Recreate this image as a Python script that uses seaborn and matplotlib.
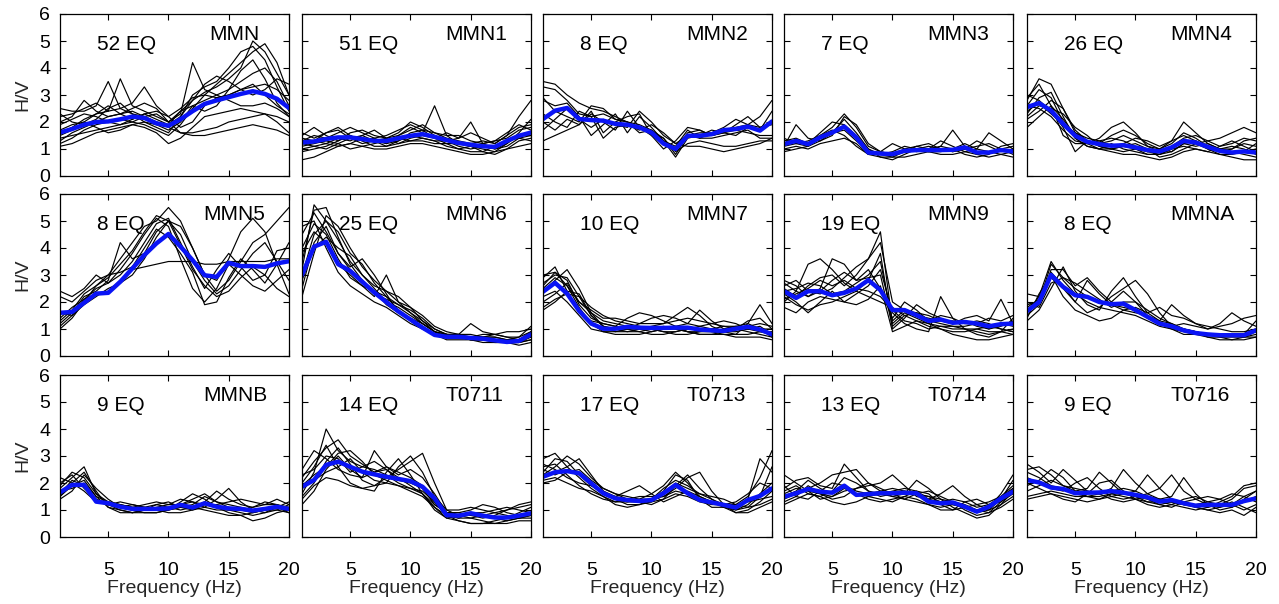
import numpy as np
import pandas as pd
import matplotlib
matplotlib.use("Agg")
import matplotlib.pyplot as plt
import seaborn as sns

sns.set_theme(style="white")
plt.rcParams["font.family"] = ["Liberation Sans", "DejaVu Sans"]

# Frequency samples (Hz)
freq = list(range(1, 21))

# ---------------- MMN ----------------
mmn_mean = [1.61, 1.74, 1.9, 2.0, 2.02, 2.1, 2.2, 2.15, 1.95, 1.86, 2.1, 2.4, 2.67, 2.8, 2.92, 3.04, 3.14, 3.04, 2.86, 2.52]
mmn_eq = [
    [1.2, 1.4, 1.7, 1.9, 2.0, 2.1, 2.0, 1.9, 1.7, 1.5, 1.9, 2.5, 3.0, 3.4, 3.8, 4.2, 4.6, 4.9, 4.2, 3.0],
    [2.5, 2.4, 2.4, 2.6, 3.5, 2.5, 2.3, 2.2, 2.0, 1.9, 2.2, 2.8, 3.1, 3.3, 3.6, 4.0, 5.0, 4.6, 3.8, 3.0],
    [2.2, 2.3, 2.5, 2.7, 2.4, 3.6, 2.6, 2.4, 2.2, 2.0, 2.3, 4.2, 3.2, 3.0, 3.2, 3.5, 3.8, 4.0, 3.5, 2.6],
    [1.6, 1.8, 2.1, 2.3, 2.4, 2.5, 2.7, 3.3, 2.6, 2.2, 2.5, 2.9, 3.0, 2.9, 3.0, 3.2, 3.3, 3.4, 3.2, 2.8],
    [1.1, 1.2, 1.4, 1.6, 1.7, 1.8, 1.9, 1.8, 1.6, 1.2, 1.4, 1.8, 2.2, 2.3, 2.4, 2.5, 2.4, 2.3, 2.0, 1.6],
    [1.9, 2.1, 2.3, 2.2, 2.0, 1.9, 2.1, 2.3, 2.4, 2.2, 1.8, 2.0, 2.6, 2.9, 3.0, 3.2, 3.4, 3.0, 2.6, 2.3],
    [1.4, 1.5, 1.6, 1.7, 1.8, 1.9, 2.0, 2.2, 2.3, 2.0, 1.6, 1.6, 1.7, 1.8, 2.0, 2.1, 2.2, 2.3, 2.2, 2.0],
    [2.0, 2.2, 2.8, 2.4, 2.2, 2.3, 2.5, 2.7, 2.5, 2.0, 2.4, 2.8, 3.4, 3.7, 3.5, 3.2, 3.0, 3.2, 3.6, 3.4],
    [1.7, 1.9, 2.0, 1.8, 1.6, 1.7, 1.9, 2.0, 1.9, 1.7, 2.0, 2.6, 2.4, 2.6, 3.2, 3.9, 4.3, 3.6, 2.7, 2.2],
    [1.3, 1.6, 1.8, 2.0, 2.2, 2.3, 2.4, 2.2, 2.0, 1.8, 1.6, 1.5, 1.5, 1.6, 1.7, 1.8, 1.9, 1.8, 1.7, 1.5],
    [2.3, 2.0, 1.9, 2.1, 2.5, 2.7, 2.3, 2.0, 1.8, 1.6, 2.2, 3.0, 3.3, 3.5, 4.0, 4.6, 4.8, 4.3, 3.3, 2.4],
    [1.5, 1.7, 2.0, 2.3, 2.6, 2.3, 2.1, 2.3, 2.1, 1.9, 2.4, 2.6, 2.8, 3.0, 2.8, 2.6, 2.6, 2.7, 2.5, 2.2],
]

# ---------------- MMN1 ----------------
mmn1_mean = [1.24, 1.28, 1.37, 1.43, 1.43, 1.37, 1.3, 1.3, 1.4, 1.49, 1.55, 1.45, 1.33, 1.22, 1.16, 1.1, 1.08, 1.3, 1.49, 1.61]
mmn1_eq = [
    [0.6, 0.7, 0.9, 1.1, 1.2, 1.1, 1.0, 1.0, 1.1, 1.2, 1.2, 1.1, 1.0, 0.9, 0.8, 0.8, 0.9, 1.0, 1.1, 1.2],
    [1.5, 1.8, 1.5, 1.3, 1.6, 1.7, 1.5, 1.4, 1.6, 2.0, 1.8, 1.5, 1.3, 1.4, 1.6, 1.4, 1.2, 1.5, 2.2, 2.8],
    [1.2, 1.3, 1.6, 1.8, 1.5, 1.3, 1.4, 1.2, 1.5, 1.8, 1.6, 2.6, 1.5, 1.2, 1.1, 1.2, 1.3, 1.6, 1.9, 1.7],
    [1.0, 1.1, 1.2, 1.4, 1.3, 1.5, 1.7, 1.4, 1.2, 1.4, 1.5, 1.4, 1.6, 1.4, 2.0, 1.2, 1.0, 1.1, 1.4, 1.5],
    [1.4, 1.3, 1.2, 1.1, 1.2, 1.4, 1.3, 1.2, 1.3, 1.6, 1.7, 1.4, 1.2, 1.0, 0.9, 0.9, 0.8, 1.0, 1.3, 1.4],
    [0.9, 1.0, 1.1, 1.3, 1.5, 1.3, 1.1, 1.1, 1.3, 1.5, 1.4, 1.3, 1.3, 1.1, 1.0, 1.1, 1.0, 1.2, 1.6, 2.1],
    [1.3, 1.5, 1.4, 1.6, 1.8, 1.6, 1.4, 1.5, 1.7, 1.9, 1.7, 1.6, 1.5, 1.5, 1.3, 1.2, 1.3, 1.4, 1.7, 1.8],
    [1.1, 1.2, 1.3, 1.2, 1.0, 1.1, 1.2, 1.3, 1.4, 1.3, 1.4, 1.3, 1.1, 1.0, 1.1, 1.0, 0.9, 1.2, 1.5, 1.5],
    [1.6, 1.4, 1.6, 1.7, 1.4, 1.2, 1.3, 1.4, 1.5, 1.7, 1.9, 1.6, 1.4, 1.3, 1.2, 1.3, 1.2, 1.5, 1.8, 1.9],
    [1.2, 1.1, 1.0, 1.2, 1.4, 1.5, 1.3, 1.1, 1.2, 1.3, 1.3, 1.2, 1.2, 1.2, 1.1, 0.9, 1.1, 1.3, 1.4, 1.3],
]

# ---------------- MMN2 ----------------
mmn2_mean = [2.11, 2.42, 2.52, 2.11, 2.07, 2.05, 1.93, 1.9, 1.8, 1.61, 1.2, 1.0, 1.49, 1.49, 1.55, 1.7, 1.74, 1.83, 1.68, 2.02]
mmn2_eq = [
    [3.5, 3.4, 3.0, 2.7, 2.5, 2.4, 2.2, 2.0, 1.9, 1.7, 1.4, 0.8, 1.5, 1.6, 1.6, 1.7, 1.8, 1.9, 2.2, 2.8],
    [3.3, 3.2, 2.8, 2.3, 2.2, 2.3, 2.1, 2.0, 1.8, 1.5, 1.2, 1.0, 1.6, 1.7, 1.5, 1.6, 1.7, 1.6, 1.5, 1.5],
    [1.3, 1.5, 1.7, 1.9, 2.3, 2.0, 1.7, 2.4, 1.8, 1.6, 1.4, 0.9, 1.2, 1.3, 1.2, 1.1, 1.1, 1.2, 1.3, 1.3],
    [2.8, 2.6, 2.7, 2.2, 1.5, 1.9, 2.3, 1.6, 2.2, 1.8, 1.3, 1.1, 1.7, 1.4, 1.6, 1.8, 2.1, 1.9, 1.8, 2.0],
    [2.0, 1.7, 2.1, 1.9, 2.4, 1.6, 2.0, 2.2, 2.3, 1.5, 1.0, 1.3, 1.8, 1.7, 1.5, 1.6, 1.9, 2.2, 1.8, 1.9],
    [1.7, 2.1, 2.5, 2.1, 1.8, 2.1, 1.9, 1.8, 2.4, 2.0, 1.5, 1.2, 1.5, 1.4, 1.4, 1.5, 1.6, 1.7, 1.4, 1.4],
    [2.3, 2.0, 1.8, 2.4, 2.2, 1.4, 1.8, 1.9, 1.7, 1.9, 1.6, 1.2, 1.1, 1.1, 1.0, 0.9, 1.0, 1.1, 1.2, 1.4],
    [2.9, 2.4, 2.2, 2.0, 2.6, 2.5, 2.1, 2.0, 1.6, 1.7, 1.3, 0.7, 1.4, 1.5, 1.7, 1.6, 1.5, 1.8, 1.7, 2.4],
]

# ---------------- MMN3 ----------------
mmn3_mean = [1.18, 1.3, 1.18, 1.43, 1.61, 1.83, 1.43, 0.87, 0.83, 0.81, 0.93, 0.96, 0.96, 0.96, 0.97, 1.06, 0.87, 0.87, 0.96, 0.91]
mmn3_eq = [
    [1.1, 1.9, 1.4, 1.3, 1.6, 2.1, 1.6, 1.0, 0.7, 0.6, 0.8, 1.0, 1.1, 1.0, 0.9, 1.0, 1.1, 1.2, 1.0, 0.8],
    [1.3, 1.4, 1.2, 1.5, 1.8, 2.3, 1.8, 1.1, 0.9, 0.8, 0.9, 1.0, 0.9, 1.1, 1.7, 1.1, 0.8, 0.9, 1.0, 1.1],
    [0.9, 1.0, 1.1, 1.4, 1.6, 1.7, 1.3, 0.9, 0.8, 0.9, 1.1, 1.0, 0.9, 0.8, 0.8, 0.9, 1.0, 1.6, 1.3, 1.0],
    [1.2, 1.3, 1.2, 1.6, 2.0, 1.9, 1.5, 1.0, 0.8, 0.7, 0.7, 0.8, 0.9, 0.9, 1.0, 1.2, 1.0, 0.9, 0.8, 0.7],
    [1.0, 1.1, 1.0, 1.2, 1.3, 1.4, 1.2, 0.8, 0.9, 1.2, 1.0, 0.9, 1.0, 1.1, 1.0, 0.8, 0.7, 0.8, 1.1, 1.2],
    [1.4, 1.2, 1.3, 1.5, 1.7, 1.5, 1.1, 0.8, 0.7, 0.7, 0.9, 1.1, 1.2, 1.0, 0.9, 1.0, 1.3, 1.1, 0.9, 1.0],
    [1.1, 1.2, 1.1, 1.3, 1.5, 2.2, 1.9, 1.2, 0.9, 0.8, 1.0, 1.1, 1.0, 1.3, 1.1, 0.9, 0.8, 0.7, 0.8, 0.9],
]

# ---------------- MMN4 ----------------
mmn4_mean = [2.55, 2.7, 2.42, 1.93, 1.49, 1.27, 1.18, 1.12, 1.14, 1.06, 0.96, 0.91, 1.06, 1.3, 1.24, 1.08, 0.93, 0.87, 0.91, 0.87]
mmn4_eq = [
    [2.8, 3.6, 3.4, 2.5, 1.6, 1.3, 1.2, 1.3, 1.5, 1.3, 1.1, 1.0, 1.2, 1.6, 1.4, 1.1, 1.0, 0.9, 0.8, 0.7],
    [2.3, 2.9, 3.1, 2.2, 1.4, 1.1, 1.0, 1.2, 1.0, 0.9, 0.8, 0.8, 1.0, 1.3, 1.2, 1.0, 0.9, 1.0, 1.2, 1.1],
    [2.6, 2.5, 2.2, 1.7, 1.3, 1.2, 1.4, 1.8, 2.0, 1.6, 1.1, 0.9, 1.1, 1.4, 1.5, 1.3, 1.1, 1.2, 1.4, 1.3],
    [3.0, 2.8, 2.4, 1.8, 0.9, 1.3, 1.1, 1.0, 1.1, 1.2, 1.0, 0.7, 0.8, 1.0, 1.2, 1.3, 1.4, 1.6, 1.8, 1.6],
    [1.8, 2.2, 2.6, 2.1, 1.5, 1.2, 1.0, 0.9, 0.8, 0.8, 0.7, 0.6, 0.7, 0.9, 1.0, 0.9, 0.8, 0.7, 0.6, 0.6],
    [2.4, 2.7, 2.3, 1.9, 1.6, 1.4, 1.3, 1.1, 1.2, 1.4, 1.3, 1.1, 1.3, 2.0, 1.6, 1.2, 1.0, 0.9, 0.9, 1.0],
    [2.1, 2.4, 2.8, 2.5, 1.7, 1.3, 1.2, 1.5, 1.7, 1.5, 1.2, 1.0, 0.9, 1.2, 1.3, 1.1, 1.0, 1.1, 1.0, 0.8],
    [2.6, 3.2, 2.9, 2.0, 1.4, 1.1, 1.0, 1.0, 0.9, 1.0, 0.9, 0.8, 1.0, 1.1, 1.0, 0.9, 1.1, 1.3, 1.1, 0.9],
    [2.9, 3.4, 2.6, 1.5, 1.2, 1.2, 1.3, 1.4, 1.3, 1.1, 0.9, 1.0, 1.3, 1.5, 1.3, 1.0, 0.8, 0.8, 0.9, 1.2],
    [2.2, 2.6, 2.5, 2.3, 1.8, 1.5, 1.1, 1.0, 1.1, 1.0, 0.8, 0.8, 0.9, 1.2, 1.1, 1.2, 1.0, 1.0, 1.3, 1.4],
]

# ---------------- MMN5 ----------------
mmn5_mean = [1.6, 1.63, 1.97, 2.31, 2.34, 2.75, 3.24, 3.74, 4.17, 4.52, 4.05, 3.55, 2.99, 2.93, 3.45, 3.33, 3.33, 3.3, 3.43, 3.51]
mmn5_eq = [
    [1.0, 1.4, 2.0, 2.6, 3.0, 3.6, 4.2, 4.8, 5.0, 5.5, 5.0, 4.0, 3.0, 2.4, 2.8, 3.5, 4.2, 4.5, 5.0, 5.5],
    [2.4, 2.2, 2.5, 3.0, 2.7, 3.2, 3.8, 4.5, 5.1, 4.8, 3.6, 2.5, 2.0, 2.5, 3.4, 3.0, 2.6, 2.4, 2.8, 3.2],
    [1.2, 1.6, 2.2, 2.4, 2.8, 4.2, 3.6, 3.8, 4.6, 5.0, 4.5, 3.5, 2.8, 2.3, 2.6, 3.2, 3.8, 4.2, 3.5, 2.8],
    [1.4, 1.8, 2.1, 2.3, 2.4, 2.8, 3.2, 3.3, 3.4, 3.5, 3.5, 3.5, 3.4, 3.4, 3.5, 3.5, 3.5, 3.5, 3.6, 3.6],
    [1.6, 1.5, 1.9, 2.2, 2.5, 2.7, 3.0, 3.6, 4.4, 5.0, 4.8, 4.0, 3.0, 2.8, 3.6, 4.6, 5.1, 4.6, 3.4, 2.3],
    [1.3, 1.7, 2.3, 2.6, 2.9, 3.4, 3.9, 4.6, 5.2, 5.0, 4.1, 3.2, 2.6, 2.2, 2.4, 2.9, 3.3, 3.0, 2.5, 2.2],
    [2.2, 2.0, 2.4, 2.8, 3.0, 3.1, 3.3, 4.0, 4.7, 4.4, 3.8, 3.1, 1.9, 2.0, 2.9, 3.6, 3.2, 2.7, 3.4, 4.2],
    [1.1, 1.5, 2.1, 2.5, 2.7, 3.0, 3.5, 4.2, 4.9, 5.1, 4.2, 3.3, 2.5, 3.2, 3.8, 3.3, 2.8, 3.0, 3.9, 4.0],
]

# ---------------- MMN6 ----------------
mmn6_mean = [3.0, 4.05, 4.23, 3.4, 3.15, 2.75, 2.35, 2.0, 1.65, 1.35, 1.05, 0.78, 0.71, 0.71, 0.67, 0.64, 0.58, 0.52, 0.56, 0.8]
mmn6_eq = [
    [3.2, 5.6, 5.0, 4.3, 3.5, 3.0, 2.5, 2.0, 1.8, 1.5, 1.2, 0.9, 0.7, 0.7, 0.6, 0.6, 0.6, 0.5, 0.5, 0.7],
    [4.5, 5.3, 4.6, 3.8, 3.2, 2.8, 2.4, 2.2, 1.7, 1.3, 1.0, 0.8, 0.8, 0.8, 0.7, 0.7, 0.7, 0.6, 0.6, 0.9],
    [2.2, 3.8, 5.2, 4.8, 4.0, 3.3, 2.8, 2.4, 2.0, 1.6, 1.2, 0.9, 0.8, 0.7, 0.6, 0.5, 0.5, 0.5, 0.5, 0.6],
    [3.8, 4.6, 4.2, 3.4, 3.0, 2.6, 2.2, 3.0, 2.0, 1.8, 1.5, 1.1, 0.9, 0.8, 1.2, 0.9, 0.8, 0.7, 0.6, 0.8],
    [2.5, 4.2, 4.8, 3.8, 3.3, 3.6, 3.0, 2.3, 1.6, 1.4, 1.1, 0.8, 0.7, 0.7, 0.7, 0.8, 0.8, 0.7, 0.7, 1.1],
    [4.8, 5.0, 4.0, 3.1, 2.6, 2.3, 2.0, 1.8, 1.5, 1.2, 1.0, 0.8, 0.6, 0.6, 0.6, 0.6, 0.5, 0.5, 0.5, 0.6],
    [3.5, 5.4, 5.5, 4.4, 3.4, 2.8, 2.3, 2.1, 1.9, 1.7, 1.4, 1.0, 0.8, 0.8, 0.8, 0.7, 0.8, 0.9, 0.9, 1.0],
    [2.8, 4.0, 4.4, 4.0, 3.7, 3.0, 2.6, 2.4, 2.2, 1.8, 1.3, 0.9, 0.7, 0.7, 0.7, 0.6, 0.6, 0.6, 0.7, 0.9],
    [4.0, 4.9, 4.5, 3.6, 2.9, 2.6, 2.4, 1.9, 1.6, 1.4, 1.2, 0.9, 0.8, 0.7, 0.6, 0.6, 0.6, 0.5, 0.4, 0.5],
    [3.0, 4.5, 5.0, 4.6, 3.8, 3.4, 2.7, 2.2, 1.9, 1.6, 1.3, 1.0, 0.8, 0.7, 0.7, 0.7, 0.7, 0.6, 0.6, 0.8],
]

# ---------------- MMN7 ----------------
mmn7_mean = [2.38, 2.71, 2.31, 1.67, 1.2, 1.01, 1.01, 1.08, 1.05, 1.04, 1.04, 1.05, 1.05, 0.98, 0.95, 0.93, 1.01, 1.08, 0.98, 0.8]
mmn7_eq = [
    [2.9, 3.3, 2.4, 1.6, 1.3, 1.2, 1.1, 1.0, 1.0, 1.1, 1.2, 1.5, 1.8, 1.5, 1.1, 0.9, 0.9, 1.0, 1.1, 0.8],
    [2.4, 2.8, 3.2, 2.5, 1.6, 1.1, 0.9, 0.9, 1.0, 1.0, 0.9, 0.9, 1.0, 1.0, 0.9, 0.8, 0.8, 1.2, 1.9, 1.2],
    [1.8, 2.1, 2.3, 2.2, 1.8, 1.5, 1.3, 1.2, 1.1, 1.0, 0.9, 0.8, 0.8, 0.9, 1.0, 1.1, 1.0, 0.9, 0.8, 0.7],
    [2.6, 3.1, 2.8, 1.9, 1.4, 1.2, 1.1, 1.4, 1.6, 1.5, 1.3, 1.1, 0.9, 0.8, 0.8, 0.8, 0.7, 0.7, 0.7, 0.6],
    [2.2, 2.4, 2.0, 1.5, 1.0, 0.9, 0.9, 1.0, 1.2, 1.4, 1.5, 1.4, 1.2, 1.1, 1.2, 1.3, 1.2, 1.0, 0.9, 0.9],
    [3.0, 3.1, 2.6, 2.0, 1.6, 1.3, 1.2, 1.1, 1.0, 0.9, 1.0, 1.1, 1.2, 1.7, 1.3, 1.0, 1.0, 1.1, 1.2, 1.1],
    [1.7, 2.0, 2.4, 2.3, 1.5, 1.1, 1.0, 1.0, 0.9, 0.8, 0.8, 0.9, 1.0, 1.1, 1.0, 0.9, 1.0, 1.3, 1.4, 1.0],
    [2.5, 2.9, 2.6, 1.8, 1.2, 0.9, 0.8, 0.8, 0.8, 0.9, 1.0, 1.0, 0.9, 0.8, 0.8, 0.9, 0.8, 0.8, 0.9, 0.8],
    [2.0, 2.3, 2.7, 2.0, 1.7, 1.4, 1.4, 1.3, 1.2, 1.2, 1.2, 1.3, 1.4, 1.3, 1.2, 1.1, 1.1, 1.0, 1.0, 1.0],
    [2.7, 3.0, 2.9, 2.2, 1.5, 1.1, 1.0, 0.9, 0.9, 1.0, 1.1, 1.0, 0.9, 0.9, 0.9, 1.0, 1.1, 1.2, 1.0, 0.7],
]

# ---------------- MMN9 ----------------
mmn9_mean = [2.4, 2.15, 2.4, 2.4, 2.25, 2.34, 2.5, 2.81, 2.44, 1.7, 1.7, 1.51, 1.3, 1.35, 1.23, 1.26, 1.2, 1.1, 1.18, 1.2]
mmn9_eq = [
    [2.5, 2.2, 2.6, 2.9, 3.0, 2.6, 3.0, 3.6, 4.6, 1.2, 1.6, 1.4, 1.2, 1.1, 1.0, 1.0, 0.9, 0.8, 0.9, 1.0],
    [2.0, 2.4, 3.4, 3.6, 3.2, 2.7, 2.4, 2.8, 3.8, 1.0, 1.4, 1.9, 1.6, 1.4, 1.2, 1.3, 1.1, 1.0, 1.2, 1.1],
    [2.8, 2.6, 2.2, 2.5, 3.6, 3.4, 2.8, 3.2, 2.5, 1.4, 2.0, 1.7, 1.3, 1.5, 1.4, 1.2, 1.3, 1.2, 1.0, 0.9],
    [1.8, 1.6, 2.0, 2.2, 2.1, 2.0, 2.3, 2.6, 3.2, 1.6, 1.2, 1.0, 0.9, 2.2, 1.4, 1.0, 0.8, 0.7, 0.9, 1.4],
    [2.2, 1.9, 1.7, 1.9, 2.0, 2.2, 2.4, 2.2, 2.0, 1.8, 1.5, 1.3, 1.2, 1.0, 0.8, 0.7, 0.6, 0.6, 0.7, 0.8],
    [2.6, 2.8, 2.4, 2.3, 2.5, 2.9, 3.3, 3.6, 4.2, 2.0, 1.7, 1.6, 1.5, 1.3, 1.2, 1.4, 1.5, 1.3, 2.1, 1.2],
    [2.3, 2.0, 1.6, 2.0, 2.4, 2.0, 1.9, 2.1, 2.6, 0.9, 1.1, 1.3, 1.1, 1.0, 0.9, 0.9, 1.0, 1.1, 1.0, 0.9],
    [2.4, 2.5, 2.7, 2.6, 2.3, 2.4, 2.7, 3.0, 3.5, 1.3, 1.7, 1.5, 1.4, 1.3, 1.3, 1.2, 1.2, 1.4, 1.3, 1.5],
    [2.1, 2.3, 2.5, 2.8, 2.6, 2.8, 2.5, 2.4, 2.2, 1.7, 1.3, 1.2, 1.0, 1.1, 1.1, 1.0, 1.0, 0.9, 0.9, 0.8],
    [2.7, 2.4, 2.2, 2.4, 2.8, 3.1, 2.8, 2.9, 3.0, 1.1, 1.5, 1.6, 1.3, 1.2, 1.1, 1.1, 1.2, 1.0, 1.1, 1.3],
]

# ---------------- MMNA ----------------
mmna_mean = [1.66, 2.0, 3.0, 2.56, 2.25, 2.19, 2.0, 1.92, 1.94, 1.7, 1.45, 1.2, 1.1, 0.95, 0.85, 0.8, 0.77, 0.77, 0.77, 0.95]
mmna_eq = [
    [2.3, 2.2, 3.5, 2.8, 2.3, 2.0, 1.8, 1.7, 1.6, 1.5, 1.3, 1.1, 1.0, 0.8, 0.8, 0.7, 0.7, 0.6, 0.7, 0.8],
    [1.5, 1.9, 3.2, 3.2, 2.6, 2.9, 2.4, 2.0, 2.4, 2.0, 1.5, 1.2, 1.0, 0.9, 0.8, 0.8, 0.8, 0.8, 0.7, 0.9],
    [1.3, 1.7, 2.5, 3.3, 2.4, 1.9, 1.7, 2.4, 2.9, 2.2, 1.6, 1.3, 1.2, 1.0, 0.9, 0.8, 0.7, 0.7, 0.7, 0.7],
    [1.8, 2.1, 3.1, 2.6, 2.0, 1.6, 1.8, 2.2, 2.5, 2.8, 2.3, 1.6, 1.1, 1.0, 0.9, 0.8, 0.8, 0.8, 0.8, 1.3],
    [1.4, 2.3, 3.0, 2.2, 1.7, 1.5, 1.3, 1.4, 1.7, 1.8, 1.6, 1.8, 1.5, 1.4, 1.2, 1.1, 1.0, 0.9, 0.9, 1.0],
    [2.0, 1.8, 2.7, 2.9, 2.5, 2.2, 2.0, 1.9, 1.7, 1.6, 1.5, 1.3, 1.9, 1.5, 1.2, 1.0, 1.1, 1.2, 1.4, 1.5],
    [1.6, 2.2, 2.9, 2.5, 2.0, 2.8, 2.3, 1.9, 1.8, 1.7, 1.4, 1.2, 1.1, 1.2, 1.1, 1.0, 1.2, 1.6, 1.3, 1.1],
    [1.9, 2.0, 3.4, 2.9, 2.7, 2.4, 2.1, 1.8, 2.0, 2.0, 1.7, 1.4, 1.2, 1.0, 0.9, 0.7, 0.6, 0.6, 0.6, 0.7],
]

# ---------------- MMNB ----------------
mmnb_mean = [1.65, 1.93, 1.93, 1.31, 1.25, 1.12, 1.04, 1.04, 1.04, 1.06, 1.19, 1.09, 1.25, 1.12, 1.06, 1.04, 0.98, 1.04, 1.12, 1.04]
mmnb_eq = [
    [1.8, 2.2, 2.6, 1.6, 1.3, 1.2, 1.1, 1.0, 1.0, 1.1, 1.2, 1.4, 1.6, 1.3, 1.1, 1.0, 0.9, 1.0, 1.1, 1.0],
    [1.5, 1.9, 2.1, 1.5, 1.1, 1.0, 0.9, 1.0, 1.2, 1.3, 1.1, 1.0, 1.1, 1.4, 1.8, 1.3, 1.0, 0.9, 1.0, 1.2],
    [2.2, 2.0, 1.7, 1.3, 1.2, 1.3, 1.2, 1.1, 1.0, 0.9, 0.9, 1.0, 1.2, 1.1, 1.0, 0.9, 0.8, 0.9, 1.1, 1.3],
    [1.4, 1.7, 2.3, 1.8, 1.4, 1.1, 1.0, 0.9, 0.9, 1.0, 1.3, 1.6, 1.4, 1.1, 0.9, 0.8, 0.6, 0.7, 0.9, 1.0],
    [1.6, 2.1, 1.9, 1.4, 1.2, 1.1, 1.0, 1.1, 1.2, 1.1, 1.0, 1.1, 1.3, 1.7, 1.4, 1.2, 1.1, 1.2, 1.4, 1.2],
    [1.9, 2.4, 2.2, 1.6, 1.2, 1.0, 0.9, 0.9, 0.9, 1.0, 1.1, 1.1, 1.0, 0.9, 0.8, 0.8, 0.9, 1.0, 1.0, 0.9],
    [1.7, 1.8, 2.0, 1.5, 1.3, 1.2, 1.1, 1.2, 1.3, 1.2, 1.2, 1.3, 1.2, 1.2, 1.3, 1.4, 1.3, 1.2, 1.2, 1.1],
    [1.5, 2.0, 2.4, 1.7, 1.1, 0.9, 0.9, 1.0, 1.1, 1.2, 1.4, 1.3, 1.1, 1.0, 1.0, 1.0, 1.1, 1.3, 1.2, 1.0],
    [2.0, 2.3, 1.8, 1.4, 1.2, 1.1, 1.2, 1.1, 1.0, 1.0, 1.1, 1.2, 1.5, 1.3, 1.2, 1.1, 1.0, 1.0, 1.1, 0.9],
]

# ---------------- T0711 ----------------
t0711_mean = [1.86, 2.11, 2.67, 2.79, 2.6, 2.42, 2.32, 2.23, 2.15, 2.07, 1.86, 1.43, 0.81, 0.79, 0.88, 0.79, 0.72, 0.72, 0.79, 0.88]
t0711_eq = [
    [1.6, 2.4, 4.0, 3.2, 2.8, 2.6, 2.5, 2.3, 2.0, 1.8, 1.6, 1.2, 0.9, 0.9, 0.8, 0.8, 0.7, 0.7, 0.8, 0.9],
    [2.2, 2.8, 3.3, 3.6, 3.0, 2.7, 2.4, 2.6, 2.4, 2.2, 1.9, 1.3, 0.8, 0.7, 0.9, 0.8, 0.7, 0.6, 0.7, 0.8],
    [1.2, 1.7, 2.5, 3.0, 2.5, 2.2, 2.4, 2.5, 2.2, 1.9, 1.6, 1.1, 0.7, 0.6, 0.5, 0.5, 0.6, 0.7, 0.9, 1.1],
    [2.5, 3.2, 2.9, 2.5, 2.3, 2.2, 3.2, 2.6, 2.3, 2.5, 2.2, 1.6, 0.9, 0.8, 0.8, 0.7, 0.8, 1.0, 1.2, 1.3],
    [1.8, 2.1, 2.4, 2.6, 2.9, 2.4, 2.1, 2.0, 2.6, 3.0, 2.4, 1.5, 1.0, 1.0, 1.1, 1.0, 0.9, 0.8, 0.7, 0.7],
    [1.5, 2.0, 2.8, 3.3, 2.7, 2.1, 1.9, 2.2, 2.5, 2.8, 3.1, 2.0, 1.0, 0.8, 0.7, 0.6, 0.5, 0.5, 0.6, 0.6],
    [2.0, 2.6, 3.4, 2.6, 2.0, 1.8, 1.9, 2.0, 1.9, 1.8, 1.7, 1.3, 0.8, 0.6, 0.5, 0.5, 0.5, 0.6, 0.7, 0.8],
    [1.4, 1.9, 2.2, 2.1, 1.9, 1.8, 1.7, 2.4, 2.9, 2.3, 1.6, 1.0, 0.7, 0.8, 0.9, 0.9, 1.0, 1.1, 1.0, 0.9],
    [2.3, 2.5, 3.0, 2.9, 2.4, 2.6, 2.8, 2.5, 2.1, 2.0, 1.8, 1.2, 0.9, 0.9, 1.0, 1.2, 1.1, 0.9, 0.8, 0.9],
    [1.9, 2.3, 2.6, 3.1, 3.2, 2.8, 2.3, 2.1, 1.9, 1.7, 1.5, 1.1, 0.8, 0.7, 0.7, 0.8, 0.9, 1.0, 1.1, 1.2],
]

# ---------------- T0713 ----------------
t0713_mean = [2.23, 2.4, 2.44, 2.36, 1.99, 1.62, 1.43, 1.37, 1.33, 1.37, 1.62, 1.93, 1.62, 1.37, 1.28, 1.19, 1.09, 1.37, 1.52, 1.8]
t0713_eq = [
    [2.9, 3.1, 2.6, 2.2, 1.8, 1.5, 1.3, 1.3, 1.4, 1.6, 1.9, 2.4, 2.0, 1.5, 1.3, 1.2, 1.1, 1.4, 2.9, 2.4],
    [2.2, 2.4, 2.6, 2.9, 2.3, 1.7, 1.4, 1.2, 1.2, 1.3, 1.6, 2.0, 1.8, 1.6, 1.4, 1.2, 1.0, 1.2, 1.6, 2.0],
    [2.6, 2.7, 2.3, 1.9, 1.6, 1.4, 1.3, 1.4, 1.5, 1.5, 1.5, 1.8, 2.2, 2.4, 1.7, 1.2, 0.9, 1.0, 1.3, 1.7],
    [2.0, 2.1, 2.4, 2.5, 2.1, 1.8, 1.6, 1.5, 1.4, 1.4, 1.7, 2.3, 2.1, 1.4, 1.1, 1.1, 1.2, 1.5, 2.2, 3.2],
    [2.4, 2.9, 2.8, 2.3, 1.9, 1.6, 1.5, 1.7, 1.9, 1.6, 1.3, 1.5, 1.7, 1.5, 1.3, 1.2, 1.2, 1.3, 1.4, 1.5],
    [2.1, 2.2, 2.0, 1.8, 1.7, 1.5, 1.2, 1.1, 1.2, 1.4, 1.8, 2.1, 1.9, 1.6, 1.5, 1.4, 1.2, 1.1, 1.2, 1.4],
    [2.7, 2.5, 2.2, 2.0, 1.9, 1.7, 1.5, 1.4, 1.3, 1.4, 1.5, 1.7, 1.6, 1.4, 1.3, 1.1, 1.0, 1.1, 1.5, 2.6],
    [2.3, 2.6, 3.0, 2.7, 2.2, 1.8, 1.6, 1.4, 1.3, 1.2, 1.4, 1.9, 2.3, 1.8, 1.4, 1.1, 0.9, 0.9, 1.1, 1.3],
    [2.5, 2.3, 2.5, 2.4, 2.0, 1.6, 1.4, 1.3, 1.3, 1.3, 1.4, 1.6, 1.5, 1.3, 1.2, 1.2, 1.3, 1.6, 2.0, 1.8],
]

# ---------------- T0714 ----------------
t0714_mean = [1.49, 1.62, 1.78, 1.68, 1.64, 1.9, 1.56, 1.59, 1.62, 1.62, 1.64, 1.62, 1.31, 1.25, 1.28, 1.12, 0.94, 1.12, 1.43, 1.68]
t0714_eq = [
    [1.8, 2.1, 2.2, 1.9, 1.8, 2.7, 2.2, 1.7, 1.5, 1.6, 1.7, 1.6, 1.5, 1.3, 1.2, 1.1, 1.0, 1.1, 1.6, 2.3],
    [1.4, 1.6, 1.8, 2.0, 2.3, 2.4, 2.5, 2.0, 1.7, 1.5, 1.4, 1.6, 1.7, 1.5, 1.3, 1.0, 0.8, 0.9, 1.3, 1.8],
    [2.3, 2.0, 1.7, 1.6, 1.5, 1.7, 1.8, 1.9, 2.0, 2.3, 1.9, 1.5, 1.4, 1.6, 1.9, 1.5, 1.2, 1.0, 1.2, 1.5],
    [1.2, 1.4, 1.6, 1.5, 1.3, 1.2, 1.3, 1.5, 1.6, 1.5, 1.6, 2.1, 1.8, 1.4, 1.1, 0.9, 0.7, 0.8, 1.2, 1.7],
    [1.6, 1.8, 1.7, 1.4, 1.5, 1.8, 1.6, 1.4, 1.3, 1.4, 1.5, 1.4, 1.2, 1.0, 1.0, 1.1, 1.2, 1.3, 1.5, 1.9],
    [1.5, 1.7, 2.1, 1.8, 1.6, 1.9, 1.7, 1.6, 1.7, 1.8, 1.7, 1.6, 1.5, 1.4, 1.3, 1.2, 1.0, 0.9, 1.1, 1.4],
    [1.9, 1.5, 1.4, 1.7, 2.0, 1.9, 1.6, 1.5, 1.4, 1.3, 1.5, 1.7, 1.6, 1.2, 1.0, 1.3, 1.4, 1.2, 1.3, 1.6],
    [1.3, 1.5, 1.9, 1.6, 1.4, 1.5, 1.8, 2.0, 1.8, 1.6, 1.4, 1.3, 1.2, 1.1, 1.2, 1.1, 0.9, 1.0, 1.4, 2.1],
    [1.7, 1.9, 1.6, 1.5, 1.7, 2.2, 2.0, 1.7, 1.6, 1.7, 1.8, 1.7, 1.4, 1.3, 1.4, 1.3, 1.1, 1.2, 1.5, 1.8],
]

# ---------------- T0716 ----------------
t0716_mean = [2.11, 2.02, 1.83, 1.78, 1.62, 1.64, 1.65, 1.7, 1.64, 1.56, 1.47, 1.31, 1.37, 1.25, 1.16, 1.19, 1.19, 1.19, 1.33, 1.43]
t0716_eq = [
    [2.7, 2.4, 2.0, 2.5, 2.1, 1.7, 1.6, 1.8, 2.5, 2.0, 1.6, 1.4, 1.3, 1.2, 1.2, 1.1, 1.2, 1.4, 1.8, 1.9],
    [2.5, 2.6, 2.3, 1.9, 1.7, 1.8, 2.4, 2.0, 1.6, 1.5, 1.6, 1.8, 2.3, 1.7, 1.4, 1.2, 1.1, 1.2, 1.5, 1.7],
    [1.9, 2.1, 2.5, 2.2, 1.7, 1.5, 1.4, 1.5, 1.6, 1.7, 2.3, 1.8, 1.4, 1.3, 1.1, 1.0, 1.1, 1.3, 1.1, 0.9],
    [1.5, 1.6, 1.7, 1.6, 1.5, 1.5, 1.6, 1.7, 1.8, 1.7, 1.5, 1.4, 1.5, 2.2, 1.6, 1.2, 1.0, 1.1, 1.3, 1.5],
    [2.2, 2.0, 1.8, 1.7, 2.0, 2.2, 1.8, 1.5, 1.4, 1.5, 1.4, 1.2, 1.1, 1.3, 1.4, 1.5, 1.4, 1.2, 1.0, 1.2],
    [1.4, 1.5, 1.6, 1.5, 1.4, 1.3, 1.4, 1.6, 1.7, 1.5, 1.3, 1.3, 1.2, 1.1, 1.0, 1.1, 1.3, 1.5, 1.9, 2.0],
    [2.4, 2.2, 1.9, 1.8, 1.6, 1.5, 1.5, 1.6, 1.5, 1.4, 1.3, 1.2, 1.3, 1.2, 1.1, 1.0, 0.9, 1.0, 0.8, 1.1],
    [2.0, 1.8, 1.6, 1.4, 1.3, 1.6, 2.0, 2.1, 1.7, 1.4, 1.2, 1.1, 1.2, 1.4, 1.5, 1.3, 1.2, 1.1, 1.4, 1.7],
    [1.7, 1.9, 2.1, 1.9, 1.8, 1.7, 1.6, 1.4, 1.3, 1.4, 1.5, 1.4, 1.3, 1.2, 1.2, 1.3, 1.4, 1.6, 1.5, 1.3],
]

station_names = ["MMN", "MMN1", "MMN2", "MMN3", "MMN4",
                 "MMN5", "MMN6", "MMN7", "MMN9", "MMNA",
                 "MMNB", "T0711", "T0713", "T0714", "T0716"]
eq_counts = [52, 51, 8, 7, 26, 8, 25, 10, 19, 8, 9, 14, 17, 13, 9]
mean_curves = [mmn_mean, mmn1_mean, mmn2_mean, mmn3_mean, mmn4_mean,
               mmn5_mean, mmn6_mean, mmn7_mean, mmn9_mean, mmna_mean,
               mmnb_mean, t0711_mean, t0713_mean, t0714_mean, t0716_mean]
eq_curves = [mmn_eq, mmn1_eq, mmn2_eq, mmn3_eq, mmn4_eq,
             mmn5_eq, mmn6_eq, mmn7_eq, mmn9_eq, mmna_eq,
             mmnb_eq, t0711_eq, t0713_eq, t0714_eq, t0716_eq]

# ---------------- figure ----------------
W, H = 1279, 604
fig = plt.figure(figsize=(W / 100, H / 100), dpi=100)
fig.patch.set_facecolor("white")

col_left = [60, 302, 543, 784, 1027]
panel_w = 229
row_top = [14, 194, 375]
panel_h = 162

FS = 14
for i, name in enumerate(station_names):
    r, c = divmod(i, 5)
    ax = fig.add_axes([col_left[c] / W, 1 - (row_top[r] + panel_h) / H,
                       panel_w / W, panel_h / H])
    ax.set_facecolor("white")

    recs = eq_curves[i]
    df = pd.DataFrame({
        "freq": freq * len(recs),
        "hv": [v for rec in recs for v in rec],
        "rec": [k for k in range(len(recs)) for _ in freq],
    })
    sns.lineplot(data=df, x="freq", y="hv", units="rec", estimator=None,
                 color="black", linewidth=0.85, ax=ax, legend=False)
    sns.lineplot(x=freq, y=mean_curves[i], color="#0a14f5", linewidth=3.2,
                 ax=ax, legend=False)
    for ln in ax.get_lines():
        ln.set_solid_joinstyle("round")

    ax.set_xlim(1, 20)
    ax.set_ylim(0, 6)
    ax.set_xticks([5, 10, 15, 20])
    ax.set_yticks(range(7))
    ax.tick_params(direction="in", length=4, width=0.8, top=True, right=True,
                   bottom=True, left=True, labelsize=FS, colors="black")
    ax.tick_params(axis="y", pad=7)
    ax.tick_params(axis="x", pad=18)
    for sp in ax.spines.values():
        sp.set_color("black")
        sp.set_linewidth(0.9)
    ax.grid(False)

    if c == 0:
        ax.set_ylabel("H/V", fontsize=FS, labelpad=6)
    else:
        ax.set_ylabel("")
        ax.set_yticklabels([])
    if r == 2:
        ax.set_xlabel("Frequency (Hz)", fontsize=FS, labelpad=1)
    else:
        ax.set_xlabel("")
        ax.set_xticklabels([])

    ax.text(0.16, 0.81, f"{eq_counts[i]} EQ", transform=ax.transAxes,
            fontsize=15, ha="left", va="center", color="black")
    ax.text(0.65 if name == "MMN" else 0.625, 0.875, name, transform=ax.transAxes,
            fontsize=15, ha="left", va="center", color="black")

fig.savefig("out.png", dpi=100, facecolor="white")
